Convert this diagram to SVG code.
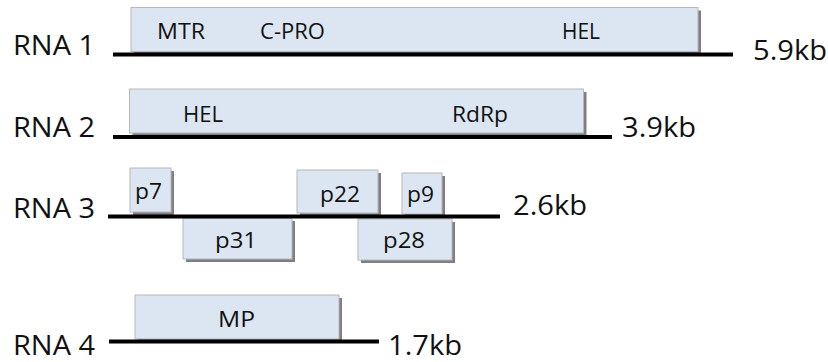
<svg xmlns="http://www.w3.org/2000/svg" width="828" height="362" viewBox="0 0 828 362">
<style>
.lbl{font-family:"Open Sans","Liberation Sans",sans-serif;font-size:28px;fill:#111}
.in{font-family:"Open Sans","Liberation Sans",sans-serif;font-size:22px;fill:#111}
.box{fill:#dce6f2;stroke:#b8b8b8;stroke-width:1}
.sh{fill:#7f7f7f}
.rna{stroke:#000;stroke-width:4;fill:none}
</style>
<rect width="828" height="362" fill="#fff"/>
<g id="labels">
<text class="lbl" x="13" y="55" textLength="82" lengthAdjust="spacingAndGlyphs">RNA 1</text>
<text class="lbl" x="13" y="137" textLength="82" lengthAdjust="spacingAndGlyphs">RNA 2</text>
<text class="lbl" x="13" y="218" textLength="82" lengthAdjust="spacingAndGlyphs">RNA 3</text>
<text class="lbl" x="13" y="354.5" textLength="82" lengthAdjust="spacingAndGlyphs">RNA 4</text>
<text class="lbl" x="753" y="60" textLength="74" lengthAdjust="spacingAndGlyphs">5.9kb</text>
<text class="lbl" x="622" y="137" textLength="74" lengthAdjust="spacingAndGlyphs">3.9kb</text>
<text class="lbl" x="513" y="215" textLength="74" lengthAdjust="spacingAndGlyphs">2.6kb</text>
<text class="lbl" x="388" y="354.5" textLength="74" lengthAdjust="spacingAndGlyphs">1.7kb</text>
</g>
<g id="rna1">
<rect class="sh" x="134" y="10.5" width="567" height="44"/>
<rect class="box" x="131" y="7.5" width="567" height="44"/>
<text class="in" x="157" y="39" textLength="48" lengthAdjust="spacingAndGlyphs">MTR</text>
<text class="in" x="260" y="39" textLength="65" lengthAdjust="spacingAndGlyphs">C-PRO</text>
<text class="in" x="562" y="39" textLength="38" lengthAdjust="spacingAndGlyphs">HEL</text>
</g>
<g id="rna2">
<rect class="sh" x="132.5" y="92" width="454" height="44"/>
<rect class="box" x="129.5" y="89" width="454" height="44"/>
<text class="in" x="183" y="122" textLength="40" lengthAdjust="spacingAndGlyphs">HEL</text>
<text class="in" x="452" y="122" textLength="56" lengthAdjust="spacingAndGlyphs">RdRp</text>
</g>
<g id="p7">
<rect class="sh" x="133" y="171" width="41" height="44"/>
<rect class="box" x="130" y="168" width="41" height="44"/>
<text class="in" x="135" y="199" textLength="27" lengthAdjust="spacingAndGlyphs">p7</text>
</g>
<g id="p22">
<rect class="sh" x="300" y="173" width="81" height="43"/>
<rect class="box" x="297" y="170" width="81" height="43"/>
<text class="in" x="320" y="202" textLength="40" lengthAdjust="spacingAndGlyphs">p22</text>
</g>
<g id="p9">
<rect class="sh" x="405" y="176" width="40" height="41"/>
<rect class="box" x="402" y="173" width="40" height="41"/>
<text class="in" x="407" y="202" textLength="27" lengthAdjust="spacingAndGlyphs">p9</text>
</g>
<g id="p31">
<rect class="sh" x="186" y="221" width="109" height="41"/>
<rect class="box" x="183" y="218" width="109" height="41"/>
<text class="in" x="215" y="248" textLength="42" lengthAdjust="spacingAndGlyphs">p31</text>
</g>
<g id="p28">
<rect class="sh" x="361" y="222" width="94" height="41"/>
<rect class="box" x="358" y="219" width="94" height="41"/>
<text class="in" x="383" y="248" textLength="42" lengthAdjust="spacingAndGlyphs">p28</text>
</g>
<g id="mp">
<rect class="sh" x="138" y="298" width="204" height="44"/>
<rect class="box" x="135" y="295" width="204" height="44"/>
<text class="in" x="218" y="327" textLength="37" lengthAdjust="spacingAndGlyphs">MP</text>
</g>
<g id="connectors">
<line class="rna" x1="113" y1="54.5" x2="733" y2="54.5"/>
<line class="rna" x1="113" y1="137" x2="612" y2="137"/>
<line class="rna" x1="108" y1="216.5" x2="500" y2="216.5"/>
<line class="rna" x1="109" y1="341.5" x2="379" y2="341.5"/>
</g>
</svg>
